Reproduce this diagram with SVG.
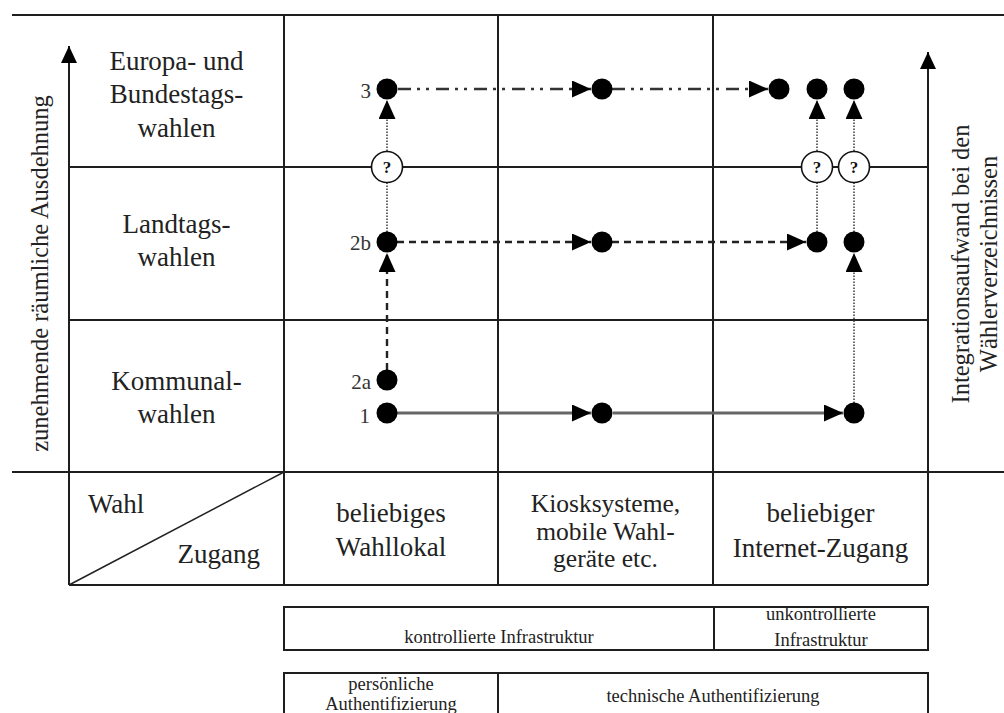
<svg xmlns="http://www.w3.org/2000/svg" width="1004" height="713" viewBox="0 0 1004 713">
<style>
.grid{stroke:#1e1e1e;stroke-width:2;fill:none}
.lbl{font-family:"Liberation Serif","Times New Roman",serif;font-size:27px;fill:#222;text-anchor:middle}
.lbs{font-family:"Liberation Serif","Times New Roman",serif;font-size:25.5px;fill:#222;text-anchor:middle}
.num{font-family:"Liberation Serif","Times New Roman",serif;font-size:21px;fill:#333;text-anchor:end}
.vt{font-family:"Liberation Serif","Times New Roman",serif;font-size:24.5px;fill:#222;text-anchor:middle}
.sm{font-family:"Liberation Serif","Times New Roman",serif;font-size:18.5px;fill:#222;text-anchor:middle}
.dot{fill:#000}
.q{fill:#fff;stroke:#111;stroke-width:1.6}
.qt{font-family:"Liberation Serif","Times New Roman",serif;font-size:17px;font-weight:bold;fill:#111;text-anchor:middle}
.solid{stroke:#666;stroke-width:3;fill:none}
.dash{stroke:#222;stroke-width:2.4;stroke-dasharray:7 5;fill:none}
.dashdot{stroke:#333;stroke-width:2.6;stroke-dasharray:13 6 3 6 3 7;fill:none}
.dotted{stroke:#444;stroke-width:1.6;stroke-dasharray:1.5 1.5;fill:none}
</style>
<defs>
<marker id="arr" markerUnits="userSpaceOnUse" markerWidth="19" markerHeight="17" viewBox="0 0 19 17" refX="19" refY="8.5" orient="auto"><path d="M0,0 L19,8.5 L0,17 Z" fill="#000"/></marker>
<marker id="axis" markerUnits="userSpaceOnUse" markerWidth="17" markerHeight="16" viewBox="0 0 17 16" refX="17" refY="8" orient="auto"><path d="M0,0 L17,8 L0,16 Z" fill="#000"/></marker>
</defs>
<rect width="1004" height="713" fill="#fff"/>

<g id="grid">
<line class="grid" x1="12" y1="15" x2="1004" y2="15"/>
<line class="grid" x1="12" y1="472" x2="1004" y2="472"/>
<line class="grid" x1="69" y1="167" x2="928" y2="167"/>
<line class="grid" x1="69" y1="320" x2="928" y2="320"/>
<line class="grid" x1="69" y1="585" x2="928" y2="585"/>
<line class="grid" x1="284" y1="15" x2="284" y2="585"/>
<line class="grid" x1="498" y1="15" x2="498" y2="585"/>
<line class="grid" x1="713" y1="15" x2="713" y2="585"/>
<line class="grid" x1="69" y1="585" x2="69" y2="46" marker-end="url(#axis)"/>
<line class="grid" x1="928" y1="585" x2="928" y2="52" marker-end="url(#axis)"/>
<line stroke="#222" stroke-width="1.5" x1="69" y1="585" x2="284" y2="472"/>
</g>

<g id="axis-left"><text class="vt" transform="translate(48,273.5) rotate(-90)">zunehmende räumliche Ausdehnung</text></g>
<g id="axis-right">
<text class="vt" transform="translate(969,264) rotate(-90)">Integrationsaufwand bei den</text>
<text class="vt" transform="translate(997,264) rotate(-90)">Wählerverzeichnissen</text>
</g>

<g id="row-europa"><text class="lbl" x="176.5" y="70">Europa- und</text><text class="lbl" x="176.5" y="103">Bundestags-</text><text class="lbl" x="176.5" y="137">wahlen</text></g>
<g id="row-landtag"><text class="lbl" x="176.5" y="233">Landtags-</text><text class="lbl" x="176.5" y="266">wahlen</text></g>
<g id="row-kommunal"><text class="lbl" x="176.5" y="390">Kommunal-</text><text class="lbl" x="176.5" y="423">wahlen</text></g>

<g id="corner"><text class="lbl" x="88" y="513" style="text-anchor:start">Wahl</text><text class="lbl" x="260" y="563" style="text-anchor:end">Zugang</text></g>
<g id="col-wahllokal"><text class="lbl" x="391" y="522">beliebiges</text><text class="lbl" x="391" y="556">Wahllokal</text></g>
<g id="col-kiosk"><text class="lbs" x="605.5" y="512">Kiosksysteme,</text><text class="lbs" x="605.5" y="540">mobile Wahl-</text><text class="lbs" x="605.5" y="567">geräte etc.</text></g>
<g id="col-internet"><text class="lbl" x="820.5" y="522">beliebiger</text><text class="lbl" x="820.5" y="557">Internet-Zugang</text></g>

<g id="infra">
<rect class="grid" x="284" y="607" width="644" height="43"/>
<line class="grid" x1="714" y1="607" x2="714" y2="650"/>
<text class="sm" x="499" y="643">kontrollierte Infrastruktur</text>
<text class="sm" x="821" y="620">unkontrollierte</text>
<text class="sm" x="821" y="646">Infrastruktur</text>
</g>
<g id="auth">
<rect class="grid" x="284" y="673" width="644" height="60"/>
<line class="grid" x1="498" y1="673" x2="498" y2="713"/>
<text class="sm" x="391" y="690">persönliche</text>
<text class="sm" x="391" y="710">Authentifizierung</text>
<text class="sm" x="713" y="702">technische Authentifizierung</text>
</g>

<g id="connectors">
<line class="dashdot" x1="398" y1="89" x2="591" y2="89" marker-end="url(#arr)"/>
<line class="dashdot" x1="612" y1="89" x2="768" y2="89" marker-end="url(#arr)"/>
<line class="dash" x1="397" y1="242" x2="591" y2="242" marker-end="url(#arr)"/>
<line class="dash" x1="612" y1="242" x2="806" y2="242" marker-end="url(#arr)"/>
<line class="solid" x1="397" y1="413" x2="591" y2="413" marker-end="url(#arr)"/>
<line class="solid" x1="613" y1="413" x2="843" y2="413" marker-end="url(#arr)"/>
<line class="dash" x1="387" y1="370" x2="387" y2="253" marker-end="url(#arr)"/>
<line class="dotted" x1="387" y1="232" x2="387" y2="183"/>
<line class="dotted" x1="387" y1="151" x2="387" y2="100" marker-end="url(#arr)"/>
<line class="dotted" x1="817" y1="232" x2="817" y2="183"/>
<line class="dotted" x1="817" y1="151" x2="817" y2="100" marker-end="url(#arr)"/>
<line class="dotted" x1="854" y1="403" x2="854" y2="253" marker-end="url(#arr)"/>
<line class="dotted" x1="854" y1="232" x2="854" y2="183"/>
<line class="dotted" x1="854" y1="151" x2="854" y2="100" marker-end="url(#arr)"/>
</g>

<g id="n3"><circle class="dot" cx="387" cy="89" r="10.5"/><text class="num" x="371" y="98">3</text></g>
<g id="n2b"><circle class="dot" cx="387" cy="242" r="10.5"/><text class="num" x="371" y="250">2b</text></g>
<g id="n2a"><circle class="dot" cx="387" cy="380" r="10.5"/><text class="num" x="371" y="389">2a</text></g>
<g id="n1"><circle class="dot" cx="387" cy="413" r="10.5"/><text class="num" x="370" y="423">1</text></g>
<g id="k3"><circle class="dot" cx="602" cy="89" r="10.5"/></g>
<g id="k2b"><circle class="dot" cx="602" cy="242" r="10.5"/></g>
<g id="k1"><circle class="dot" cx="602" cy="413" r="10.5"/></g>
<g id="i3a"><circle class="dot" cx="779" cy="89" r="10.5"/></g>
<g id="i3b"><circle class="dot" cx="817" cy="89" r="10.5"/></g>
<g id="i3c"><circle class="dot" cx="854" cy="89" r="10.5"/></g>
<g id="i2b-a"><circle class="dot" cx="817" cy="242" r="10.5"/></g>
<g id="i2b-b"><circle class="dot" cx="854" cy="242" r="10.5"/></g>
<g id="i1"><circle class="dot" cx="854" cy="413" r="10.5"/></g>
<g id="q1"><circle class="q" cx="387" cy="167" r="15.5"/><text class="qt" x="387" y="173">?</text></g>
<g id="q2"><circle class="q" cx="817" cy="167" r="15.5"/><text class="qt" x="817" y="173">?</text></g>
<g id="q3"><circle class="q" cx="854" cy="167" r="15.5"/><text class="qt" x="854" y="173">?</text></g>
</svg>
